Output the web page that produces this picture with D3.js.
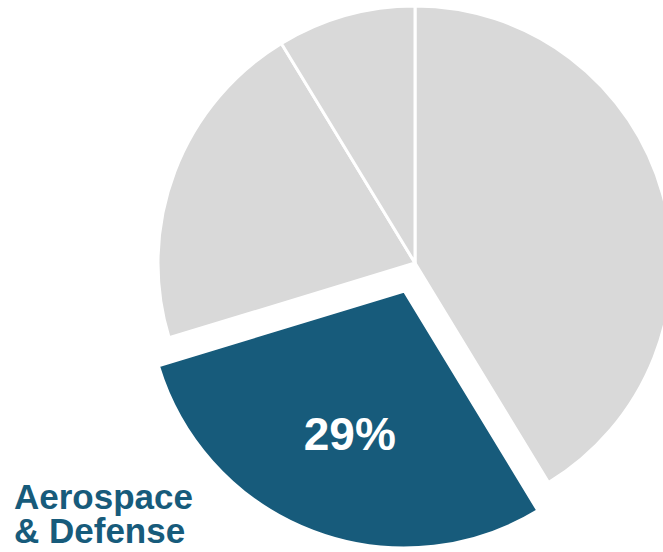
<!DOCTYPE html>
<html><head><meta charset="utf-8">
<script src="https://cdn.jsdelivr.net/npm/d3@7"></script>
<style>body{margin:0;background:#fff}svg{display:block}</style>
</head><body>
<svg id="c" width="663" height="552"></svg>
<script>
const categories = ["Other A", "Aerospace & Defense", "Other B", "Other C"];
const values = [41.3, 29, 21, 8.7];
const highlight = "Aerospace & Defense";
const labelText = "29%";

const svg = d3.select("#c");
const cx = 415, cy = 263, R = 257, explode = 30;
const pie = d3.pie().sort(null).value(d => d.v);
const arcs = pie(categories.map((c, i) => ({c, v: values[i]})));
const arc = d3.arc().innerRadius(0).outerRadius(R);
const g = svg.append("g").attr("transform", `translate(${cx},${cy})`);

arcs.forEach(a => {
  const isH = a.data.c === highlight;
  const mid = (a.startAngle + a.endAngle) / 2;
  const off = isH ? explode : 0;
  const tx = Math.sin(mid) * off, ty = -Math.cos(mid) * off;
  const sg = g.append("g").attr("transform", `translate(${tx},${ty})`);
  sg.append("path").attr("d", arc(a))
    .attr("fill", isH ? "#175b7b" : "#d9d9d9")
    .attr("stroke", "#fff").attr("stroke-width", 3).attr("stroke-linejoin", "round");
  if (isH) {
    const c = d3.arc().innerRadius(0).outerRadius(R * 1.19).centroid(a);
    sg.append("text").attr("x", c[0]).attr("y", c[1])
      .attr("text-anchor", "middle").attr("dominant-baseline", "central")
      .attr("font-family", "Liberation Sans, Arial, sans-serif").attr("font-weight", "bold")
      .attr("font-size", 46).attr("fill", "#fff").text(labelText);
  }
});

const lab = svg.append("text").attr("font-family", "Liberation Sans, Arial, sans-serif")
  .attr("font-weight", "bold").attr("font-size", 35).attr("fill", "#175b7b");
lab.append("tspan").attr("x", 14).attr("y", 509).text("Aerospace");
lab.append("tspan").attr("x", 14).attr("y", 543).text("& Defense");
</script>
</body></html>
